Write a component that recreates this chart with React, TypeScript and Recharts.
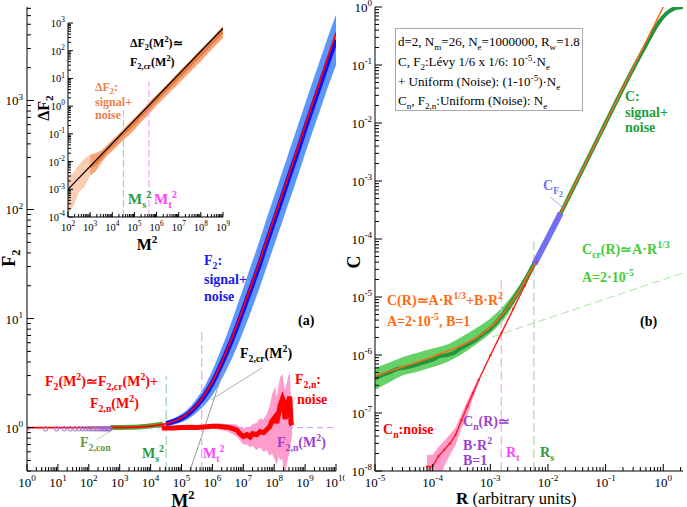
import React from 'react';
import { ComposedChart, Line, Area, XAxis, YAxis } from 'recharts';

const SERIF = '"Liberation Serif", "Times New Roman", serif';

// ---------------- Panel (a) data ----------------
const aXDecades = [1, 10, 100, 1e3, 1e4, 1e5, 1e6, 1e7, 1e8, 1e9, 1e10];
const aYDecades = [0.1, 1, 10, 100, 1000];

const aFitM2 = [1, 10, 100, 1000, 3160, 1e4, 1.78e4, 3.16e4, 5.62e4, 1e5, 1.78e5, 3.16e5, 5.62e5, 1e6, 1.78e6, 3.16e6, 5.62e6, 1e7, 3.16e7, 1e8, 3.16e8, 1e9, 3.16e9, 1e10];
const aFitF2 = [1.0, 1.0001, 1.0007, 1.005, 1.012, 1.033, 1.054, 1.087, 1.143, 1.233, 1.38, 1.62, 2.01, 2.65, 3.69, 5.4, 8.16, 12.7, 32, 84, 220, 590, 1560, 4170];

const aSigM2 = [3.16e4, 5.62e4, 1e5, 1.78e5, 3.16e5, 5.62e5, 1e6, 1.78e6, 3.16e6, 5.62e6, 1e7, 1.78e7, 3.16e7, 5.62e7, 1e8, 1.78e8, 3.16e8, 5.62e8, 1e9, 1.78e9, 3.16e9, 5.62e9, 1e10];
const aSigF2 = [1.09, 1.14, 1.22, 1.36, 1.6, 1.97, 2.58, 3.6, 5.2, 7.8, 12.1, 19, 30, 49, 79, 128, 208, 335, 550, 890, 1430, 2300, 3600];
const aSigLo = [1.04, 1.065, 1.12, 1.21, 1.38, 1.61, 1.98, 2.6, 3.59, 5.13, 7.66, 11.7, 18.2, 29.3, 47, 75.7, 122, 197, 324, 524, 841, 1350, 2120];
const aSigHi = [1.14, 1.22, 1.33, 1.52, 1.86, 2.4, 3.35, 4.97, 7.54, 11.9, 19.1, 30.8, 49.5, 81.8, 133, 216, 354, 570, 935, 1510, 2430, 3910, 6120];

const aConM2 = [500, 1000, 2000, 4000, 8000, 1.6e4, 2.5e4];
const aConF2 = [1.0, 1.002, 1.005, 1.015, 1.03, 1.055, 1.08];

const aNoiseM2 = [2.3e4, 3.2e4, 5.5e4, 1e5, 1.9e5, 3.2e5, 6.6e5, 1e6, 1.4e6, 2e6, 2.9e6, 4.2e6, 6.2e6, 7.8e6, 1e7, 1.3e7, 1.66e7, 2e7, 2.7e7, 3.5e7, 4.5e7, 5.8e7, 7.2e7, 8.5e7, 1.07e8, 1.2e8, 1.4e8, 1.55e8, 1.86e8, 2e8, 2.24e8, 2.5e8, 2.9e8, 3.2e8, 3.5e8, 3.8e8];
const aNoiseF2 = [0.99, 0.99, 0.99, 1.0, 1.01, 1.0, 1.02, 1.03, 1.03, 1.02, 1.01, 0.99, 0.95, 0.88, 0.83, 0.86, 0.82, 0.88, 0.86, 0.92, 0.9, 0.96, 1.02, 1.15, 1.25, 1.1, 1.35, 1.6, 1.85, 1.75, 1.2, 1.35, 1.75, 1.92, 1.1, 1.05];
const aNoiseLo = [0.97, 0.97, 0.97, 0.98, 0.98, 0.97, 0.98, 0.98, 0.97, 0.95, 0.93, 0.88, 0.83, 0.76, 0.7, 0.7, 0.66, 0.68, 0.62, 0.66, 0.6, 0.62, 0.55, 0.58, 0.5, 0.45, 0.55, 0.5, 0.52, 0.35, 0.3, 0.45, 0.55, 0.6, 0.75, 0.85];
const aNoiseHi = [1.01, 1.01, 1.01, 1.02, 1.04, 1.03, 1.06, 1.08, 1.09, 1.09, 1.08, 1.08, 1.07, 1.0, 0.98, 1.02, 1.0, 1.08, 1.1, 1.22, 1.18, 1.35, 1.6, 2.0, 2.4, 1.9, 2.5, 2.9, 3.1, 2.6, 2.2, 2.5, 3.0, 3.2, 1.6, 1.3];

const aCircM2 = [1, 4, 9, 16, 25, 36, 49, 64, 81, 100, 121, 144, 169, 196, 225, 256, 289, 324, 361, 400, 441, 484];
const aCircF2 = [0.975, 0.975, 0.975, 0.975, 0.975, 0.975, 0.975, 0.975, 0.975, 0.975, 0.975, 0.975, 0.975, 0.975, 0.975, 0.975, 0.975, 0.975, 0.975, 0.975, 0.975, 0.975];
const aNLineM2 = [1, 1e10];
const aNLineF2 = [1, 1];

const aCrM2 = [1.86e5, 3.16e5, 1e6, 3.16e6, 1e7, 1e8, 1e9, 1e10];
const aCrF2 = [0.4, 0.62, 1.65, 4.4, 11.7, 83, 586, 4150];

const aMsM2 = [3.2e4, 3.2e4];
const aMsF2 = [0.4, 3.0];
const aMtM2 = [4.5e5, 4.5e5];
const aMtF2 = [0.4, 7.9];
const aCrLeadM2 = [3.98e7, 9.1e5];
const aCrLeadF2 = [3.53, 1.8];
const aConLeadM2 = [180, 620];
const aConLeadF2 = [0.78, 0.96];

// ---------------- Inset data ----------------
const iXDecades = [1e2, 1e3, 1e4, 1e5, 1e6, 1e7, 1e8, 1e9];
const iYDecades = [1e-4, 1e-3, 1e-2, 1e-1, 1, 10, 100, 1000];
const iLineM2 = [100, 1e9];
const iLineDF = [1e-3, 645];
const iFaintM2 = [100, 178, 316, 562, 1000, 1780];
const iFaintLo = [1.26e-4, 2.5e-4, 7.9e-4, 1.26e-3, 3.16e-3, 4.5e-3];
const iFaintHi = [3.16e-3, 4.0e-3, 7.9e-3, 1.26e-2, 1.78e-2, 2.0e-2];
const iM2 = [1000, 1780, 3160, 5620, 1e4, 1.78e4, 3.16e4, 5.62e4, 1e5, 1.78e5, 3.16e5, 5.62e5, 1e6, 1.78e6, 3.16e6, 5.62e6, 1e7, 1.78e7, 3.16e7, 5.62e7, 1e8, 1.78e8, 3.16e8, 5.62e8, 1e9];
const iLo = [3.16e-3, 4.5e-3, 8.9e-3, 1.58e-2, 2.4e-2, 3.8e-2, 6.0e-2, 8.9e-2, 0.141, 0.24, 0.38, 0.63, 1.05, 1.66, 2.63, 4.17, 6.6, 10.5, 16.6, 26.3, 41.7, 69, 112, 182, 282];
const iHi = [1.78e-2, 2.0e-2, 2.5e-2, 3.8e-2, 6.0e-2, 9.5e-2, 0.151, 0.24, 0.38, 0.6, 1.0, 1.66, 2.63, 4.17, 6.6, 10.5, 17.4, 27.5, 43.7, 72, 115, 182, 288, 479, 759];
const iMid = [6.3e-3, 8.3e-3, 1.41e-2, 2.5e-2, 3.8e-2, 6.3e-2, 0.1, 0.151, 0.24, 0.4, 0.63, 1.05, 1.66, 2.7, 4.27, 6.8, 11, 17.4, 28.2, 45.7, 72, 115, 190, 302, 500];
const iMsM2 = [3.2e4, 3.2e4];
const iMsDF = [1e-4, 0.85];
const iMtM2 = [4.5e5, 4.5e5];
const iMtDF = [1e-4, 7.6];

// ---------------- Panel (b) data ----------------
const bXDecades = [1e-5, 1e-4, 1e-3, 1e-2, 1e-1, 1];
const bYDecades = [1e-8, 1e-7, 1e-6, 1e-5, 1e-4, 1e-3, 1e-2, 1e-1, 1];

const bCR = [1e-5, 1.33e-5, 1.78e-5, 2.37e-5, 3.16e-5, 4.2e-5, 5.62e-5, 7.5e-5, 1e-4, 1.33e-4, 1.78e-4, 2.37e-4, 3.16e-4, 4.2e-4, 5.62e-4, 7.5e-4, 1e-3, 1.78e-3, 3.16e-3, 5.62e-3, 1e-2, 3.16e-2, 0.1, 0.316, 0.5, 0.794, 1.0, 1.26, 1.58, 2.0, 2.2];
const bC = [4.0e-7, 4.5e-7, 5.0e-7, 5.7e-7, 6.0e-7, 6.4e-7, 6.9e-7, 7.6e-7, 8.3e-7, 9.6e-7, 1.0e-6, 1.1e-6, 1.33e-6, 1.55e-6, 1.85e-6, 2.3e-6, 2.85e-6, 5.5e-6, 1.3e-5, 3.6e-5, 1.03e-4, 1.0e-3, 1.0e-2, 9.5e-2, 0.22, 0.5, 0.68, 0.84, 0.95, 0.99, 1.0];
const bBandR = [1e-5, 1.78e-5, 3.16e-5, 5.62e-5, 1e-4, 1.78e-4, 3.16e-4, 5.62e-4, 1e-3, 1.78e-3, 3.16e-3, 5.62e-3, 7.08e-3];
const bBandLo = [2.5e-7, 3.4e-7, 4.5e-7, 5.2e-7, 6.2e-7, 7.6e-7, 1.02e-6, 1.51e-6, 2.34e-6, 4.27e-6, 1.06e-5, 3.24e-5, 5.4e-5];
const bBandHi = [6.0e-7, 7.4e-7, 9.3e-7, 1.1e-6, 1.29e-6, 1.51e-6, 2.04e-6, 2.88e-6, 4.27e-6, 7.4e-6, 1.57e-5, 3.9e-5, 5.9e-5];

const bFitR = [1e-5, 1.78e-5, 3.16e-5, 5.62e-5, 1e-4, 1.78e-4, 3.16e-4, 5.62e-4, 1e-3, 1.78e-3, 3.16e-3, 5.62e-3, 1e-2, 3.16e-2, 0.1, 0.316, 1.0];
const bFitC = [4.31e-7, 5.22e-7, 6.33e-7, 7.66e-7, 9.38e-7, 1.16e-6, 1.46e-6, 1.97e-6, 3.0e-6, 5.58e-6, 1.29e-5, 3.52e-5, 1.04e-4, 1.006e-3, 1.0e-2, 1.0e-1, 1.0];

const bF2R = [5.8e-3, 8e-3, 1.1e-2, 1.4e-2, 1.66e-2];
const bF2C = [3.7e-5, 6.8e-5, 1.25e-4, 2.0e-4, 2.8e-4];

const bNR = [8e-5, 1e-4, 1.26e-4, 1.58e-4, 2e-4, 2.5e-4, 3.16e-4, 3.98e-4, 5e-4, 6.3e-4, 1e-3, 1.58e-3, 2.5e-3, 3.98e-3, 6.3e-3];
const bNC = [1.2e-8, 1.2e-8, 1.8e-8, 2.3e-8, 3.0e-8, 4.2e-8, 7.5e-8, 1.3e-7, 2.2e-7, 3.7e-7, 9.8e-7, 2.45e-6, 6.2e-6, 1.58e-5, 4.0e-5];
const bNBandR = [8e-5, 1e-4, 1.26e-4, 1.58e-4, 2e-4, 2.5e-4, 3.16e-4, 3.98e-4, 5e-4, 6.3e-4];
const bNBandLo = [3e-9, 3e-9, 6e-9, 1.2e-8, 1.9e-8, 2.8e-8, 5.5e-8, 8.7e-8, 1.8e-7, 3.4e-7];
const bNBandHi = [1.9e-8, 1.9e-8, 2.6e-8, 3.3e-8, 4.3e-8, 5.6e-8, 9.5e-8, 1.6e-7, 2.6e-7, 4.0e-7];

const bCcrR = [1.1e-3, 3.16e-2, 2.2];
const bCcrC = [2.06e-6, 6.3e-6, 2.6e-5];
const bRtR = [1.55e-3, 1.55e-3];
const bRtC = [1e-8, 2.0e-5];
const bRsR = [5.7e-3, 5.7e-3];
const bRsC = [1e-8, 1.0e-4];
const bLeadR = [0.011, 0.018];
const bLeadC = [5.3e-4, 3.5e-4];

// ---------------- helpers ----------------
const pts = (xs: number[], ys: number[]) => xs.map((x, i) => ({ x, y: ys[i] }));
const rng = (xs: number[], lo: number[], hi: number[]) => xs.map((x, i) => ({ x, r: [lo[i], hi[i]] }));
const logTicks = (decades: number[], lo: number, hi: number) => {
  const out: number[] = [];
  decades.forEach((d) => {
    for (let k = 1; k <= 9; k++) {
      const v = parseFloat((d * k).toPrecision(8));
      if (v >= lo * 0.9999 && v <= hi * 1.0001) out.push(v);
    }
  });
  return out;
};

function LogTick(p: any) {
  const { x, y, payload, o } = p;
  const v = payload.value;
  const lg = Math.log10(v);
  const e = Math.round(lg);
  const isMajor = Math.abs(lg - e) < 1e-4;
  const L = isMajor ? o.major : o.minor;
  let x2 = x, y2 = y;
  if (o.side === 'bottom') y2 = y - L;
  else if (o.side === 'top') y2 = y + L;
  else if (o.side === 'left') x2 = x + L;
  else x2 = x - L;
  const fs = o.fs;
  let label = null;
  const st = { fontFamily: SERIF };
  if (o.label && isMajor) {
    const sup = <tspan dy={-fs * 0.45} fontSize={fs * 0.7}>{String(e)}</tspan>;
    if (o.side === 'bottom') {
      label = (
        <text x={x} y={y + o.off} textAnchor="middle" fontFamily={SERIF} style={st} fontSize={fs} fill="#000">
          10{sup}
        </text>
      );
    } else {
      label = (
        <text x={x - o.off} y={y + fs * 0.38} textAnchor="end" fontFamily={SERIF} style={st} fontSize={fs} fill="#000">
          10{sup}
        </text>
      );
    }
  }
  return (
    <g>
      <line x1={x} y1={y} x2={x2} y2={y2} stroke="#000" strokeWidth={1} />
      {label}
    </g>
  );
}

function frameAxes(xDom: number[], yDom: number[], xT: number[], yT: number[], c: any) {
  const common = { type: 'number' as const, scale: 'log' as const, allowDataOverflow: true, interval: 0, tickLine: false, tickSize: 0, tickMargin: 0, axisLine: { stroke: '#000', strokeWidth: 1 } };
  return [
    <XAxis key="xb" xAxisId={0} dataKey="x" domain={xDom} ticks={xT} height={c.xh} {...common}
      tick={(p: any) => <LogTick {...p} o={{ side: 'bottom', major: c.maj, minor: c.min, fs: c.fs, label: true, off: c.xoff }} />} />,
    <XAxis key="xt" xAxisId="top" orientation="top" domain={xDom} ticks={xT} height={0} {...common}
      tick={(p: any) => <LogTick {...p} o={{ side: 'top', major: c.maj, minor: c.min, fs: c.fs, label: false }} />} />,
    <YAxis key="yl" yAxisId={0} domain={yDom} ticks={yT} width={c.yw} {...common}
      tick={(p: any) => <LogTick {...p} o={{ side: 'left', major: c.maj, minor: c.min, fs: c.fs, label: true, off: c.yoff }} />} />,
    <YAxis key="yr" yAxisId="right" orientation="right" domain={yDom} ticks={yT} width={0} {...common}
      tick={(p: any) => <LogTick {...p} o={{ side: 'right', major: c.maj, minor: c.min, fs: c.fs, label: false }} />} />,
  ];
}

// ---------------- rich text ----------------
type Seg = [string, number];
function parseRich(s: string): Seg[] {
  const out: Seg[] = [];
  const re = /([_^~])\{([^}]*)\}/g;
  let last = 0;
  let m: any;
  while ((m = re.exec(s))) {
    if (m.index > last) out.push([s.slice(last, m.index), 0]);
    out.push([m[2], m[1] === '_' ? 1 : m[1] === '^' ? 2 : 3]);
    last = re.lastIndex;
  }
  if (last < s.length) out.push([s.slice(last), 0]);
  return out;
}

function Rich({ x, y, s, fs = 14, fill = '#000', bold = true, anchor = 'start', rotate = false }: any) {
  const segs = parseRich(s);
  const off = [0, fs * 0.28, -fs * 0.42, fs * 0.5];
  const sz = [fs, fs * 0.7, fs * 0.7, fs * 0.55];
  let cur = 0;
  return (
    <text
      x={rotate ? 0 : x}
      y={rotate ? 0 : y}
      transform={rotate ? `translate(${x},${y}) rotate(-90)` : undefined}
      fill={fill}
      fontFamily={SERIF}
      fontWeight={bold ? 'bold' : 'normal'}
      fontSize={fs}
      textAnchor={anchor}
      style={{ whiteSpace: 'pre', fontFamily: SERIF }}
    >
      {segs.map(([t, l], i) => {
        const dy = off[l] - cur;
        cur = off[l];
        return (
          <tspan key={i} dy={dy} fontSize={sz[l]}>
            {t}
          </tspan>
        );
      })}
    </text>
  );
}

// ---------------- charts ----------------
const NA = { isAnimationActive: false, dot: false, activeDot: false } as any;

function PanelA() {
  return (
    <ComposedChart width={345} height={507} margin={{ top: 7, right: 9, bottom: 0, left: 0 }}>
      {frameAxes([1, 1e10], [0.4, 7200], logTicks(aXDecades, 1, 1e10), logTicks(aYDecades, 0.4, 7200), { xh: 36, yw: 27, maj: 7, min: 4, fs: 13, xoff: 16, yoff: 4 })}
      <Area data={rng(aNoiseM2, aNoiseLo, aNoiseHi)} dataKey="r" type="linear" stroke="none" fill="#ff9ccc" fillOpacity={1} isAnimationActive={false} />
      <Line data={pts(aNLineM2, aNLineF2)} dataKey="y" stroke="#cf9aee" strokeWidth={1} strokeDasharray="6 4" {...NA} />
      <Line data={pts(aCrM2, aCrF2)} dataKey="y" stroke="#9a9a9a" strokeWidth={1} {...NA} />
      <Line data={pts(aMsM2, aMsF2)} dataKey="y" stroke="#9fd8b0" strokeWidth={1.3} strokeDasharray="9 4" {...NA} />
      <Line data={pts(aMtM2, aMtF2)} dataKey="y" stroke="#f4a6f4" strokeWidth={1.3} strokeDasharray="9 4" {...NA} />
      <Area data={rng(aSigM2, aSigLo, aSigHi)} dataKey="r" type="monotone" stroke="none" fill="#5c97ff" fillOpacity={1} isAnimationActive={false} />
      <Line data={pts(aSigM2, aSigF2)} dataKey="y" type="monotone" stroke="#0d0dff" strokeWidth={5} {...NA} />
      <Line data={pts(aCircM2, aCircF2)} dataKey="y" stroke="none" isAnimationActive={false} activeDot={false}
        dot={{ r: 2.2, stroke: '#9b6fd0', strokeWidth: 1, fill: 'none' }} />
      <Line data={pts(aConM2, aConF2)} dataKey="y" type="monotone" stroke="#5f9a35" strokeWidth={5} {...NA} />
      <Line data={pts(aNoiseM2, aNoiseF2)} dataKey="y" type="linear" stroke="#ff0000" strokeWidth={5} {...NA} />
      <Line data={pts(aFitM2, aFitF2)} dataKey="y" type="monotone" stroke="#ff0000" strokeWidth={1.8} {...NA} />
      <Line data={pts(aCrLeadM2, aCrLeadF2)} dataKey="y" stroke="#9a9a9a" strokeWidth={0.8} {...NA} />
      <Line data={pts(aConLeadM2, aConLeadF2)} dataKey="y" stroke="#b4c29a" strokeWidth={0.8} {...NA} />
    </ComposedChart>
  );
}

function Inset() {
  return (
    <ComposedChart width={200} height={250} margin={{ top: 23, right: 13, bottom: 0, left: 0 }}>
      {frameAxes([100, 1e9], [1e-4, 1000], logTicks(iXDecades, 100, 1e9), logTicks(iYDecades, 1e-4, 1000), { xh: 33, yw: 32, maj: 5, min: 3, fs: 10.5, xoff: 14, yoff: 3 })}
      <Line data={pts(iMsM2, iMsDF)} dataKey="y" stroke="#9fd8b0" strokeWidth={1.2} strokeDasharray="7 3" {...NA} />
      <Line data={pts(iMtM2, iMtDF)} dataKey="y" stroke="#f4a6f4" strokeWidth={1.2} strokeDasharray="7 3" {...NA} />
      <Area data={rng(iFaintM2, iFaintLo, iFaintHi)} dataKey="r" type="linear" stroke="none" fill="#f9cdb4" fillOpacity={1} isAnimationActive={false} />
      <Area data={rng(iM2, iLo, iHi)} dataKey="r" type="linear" stroke="none" fill="#f4a577" fillOpacity={1} isAnimationActive={false} />
      <Line data={pts(iM2, iMid)} dataKey="y" type="linear" stroke="#ea7a3e" strokeWidth={2.5} {...NA} />
      <Line data={pts(iLineM2, iLineDF)} dataKey="y" stroke="#000" strokeWidth={1.2} {...NA} />
    </ComposedChart>
  );
}

function PanelB() {
  return (
    <ComposedChart width={342} height={507} margin={{ top: 7, right: 4, bottom: 0, left: 0 }}>
      {frameAxes([1e-5, 2.2], [1e-8, 1], logTicks(bXDecades, 1e-5, 2.2), logTicks(bYDecades, 1e-8, 1), { xh: 36, yw: 30, maj: 7, min: 4, fs: 13, xoff: 16, yoff: 3 })}
      <Line data={pts(bCcrR, bCcrC)} dataKey="y" stroke="#a8e6a0" strokeWidth={1} strokeDasharray="8 4" {...NA} />
      <Area data={rng(bBandR, bBandLo, bBandHi)} dataKey="r" type="monotone" stroke="none" fill="#66d166" fillOpacity={1} isAnimationActive={false} />
      <Area data={rng(bNBandR, bNBandLo, bNBandHi)} dataKey="r" type="linear" stroke="none" fill="#ff9ccc" fillOpacity={1} isAnimationActive={false} />
      <Line data={pts(bRtR, bRtC)} dataKey="y" stroke="#f4a6f4" strokeWidth={1.2} strokeDasharray="9 4" {...NA} />
      <Line data={pts(bRsR, bRsC)} dataKey="y" stroke="#a8d8b8" strokeWidth={1.2} strokeDasharray="9 4" {...NA} />
      <Line data={pts(bNR, bNC)} dataKey="y" type="linear" stroke="#ff2020" strokeWidth={1.5} isAnimationActive={false} activeDot={false}
        dot={{ r: 1.2, fill: '#ff2020', stroke: 'none' }} />
      <Line data={pts(bCR, bC)} dataKey="y" type="monotone" stroke="#229440" strokeWidth={4} {...NA} />
      <Line data={pts(bFitR, bFitC)} dataKey="y" type="monotone" stroke="#ff6a10" strokeWidth={1.5} {...NA} />
      <Line data={pts(bF2R, bF2C)} dataKey="y" type="monotone" stroke="#6f6ff0" strokeWidth={6} {...NA} />
      <Line data={pts(bLeadR, bLeadC)} dataKey="y" stroke="#8f8fee" strokeWidth={0.8} {...NA} />
    </ComposedChart>
  );
}

function Labels() {
  const blue = '#1a1aee';
  const red = '#ff0000';
  const green = '#2a9a3a';
  const mag = '#ff44ff';
  const purple = '#9a3fd0';
  const orange = '#ff6a10';
  const inOrange = '#ee8048';
  return (
    <svg width={687} height={507} style={{ position: 'absolute', left: 0, top: 0, pointerEvents: 'none' }}>
      {/* axis titles */}
      <Rich x={15} y={258} s="F_{2}" fs={18} rotate anchor="middle" />
      <Rich x={183} y={507} s="M^{2}" fs={18} anchor="middle" />
      <Rich x={49} y={108} s="ΔF_{2}" fs={16} rotate anchor="middle" />
      <Rich x={147} y={250} s="M^{2}" fs={16} anchor="middle" />
      <Rich x={360} y={262} s="C" fs={18} rotate anchor="middle" />
      <text x={456} y={504} fontFamily={SERIF} style={{ fontFamily: SERIF, whiteSpace: 'pre' }} fontSize={16.5} fill="#000">
        <tspan fontWeight="bold" fontSize={17}>R</tspan>
        <tspan> (arbitrary units)</tspan>
      </text>

      {/* panel a */}
      <Rich x={204} y={265} s="F_{2}:" fill={blue} />
      <Rich x={204} y={284} s="signal+" fill={blue} />
      <Rich x={204} y={301} s="noise" fill={blue} />
      <Rich x={298} y={325} s="(a)" />
      <Rich x={240} y={358} s="F_{2,cr}(M^{2})" />
      <Rich x={45} y={386} s="F_{2}(M^{2})≃F_{2,cr}(M^{2})+" fill={red} />
      <Rich x={90} y={408} s="F_{2,n}(M^{2})" fill={red} />
      <Rich x={295} y={384} s="F_{2,n}:" fill={red} />
      <Rich x={297} y={404} s="noise" fill={red} />
      <Rich x={80} y={447} s="F_{2,con}" fill="#6a9a3a" />
      <Rich x={142} y={458} s="M_{s}^{2}" fill={green} />
      <Rich x={203} y={458} s="M_{t}^{2}" fill={mag} />
      <Rich x={277} y={447} s="F_{2,n}(M^{2})" fill={purple} />

      {/* inset */}
      <Rich x={130} y={47} s="ΔF_{2}(M^{2})≃" fs={12} />
      <Rich x={130} y={66} s="F_{2,cr}(M^{2})" fs={12} />
      <Rich x={95} y={91} s="ΔF_{2}:" fs={12} fill={inOrange} />
      <Rich x={95} y={106} s="signal+" fs={12} fill={inOrange} />
      <Rich x={95} y={119} s="noise" fs={12} fill={inOrange} />
      <Rich x={128} y={204} s="M_{s}^{2}" fs={15} fill={green} />
      <Rich x={154} y={204} s="M_{t}^{2}" fs={15} fill={mag} />

      {/* panel b legend */}
      <rect x={395.5} y={28.5} width={187} height={82} fill="#fff" stroke="#aaaaaa" strokeWidth={1} />
      <Rich x={398} y={46} s="d=2, N_{m}=26, N_{e}=1000000, R_{w}=1.8" fs={13} bold={false} />
      <Rich x={398} y={66} s="C, F_{2}:Lévy 1/6 x 1/6: 10^{-5}·N_{e}" fs={13} bold={false} />
      <Rich x={398} y={86} s="+ Uniform (Noise): (1-10^{-5})·N_{e}" fs={13} bold={false} />
      <Rich x={398} y={105} s="C_{n}, F_{2,n}:Uniform (Noise): N_{e}" fs={13} bold={false} />

      {/* panel b */}
      <Rich x={625} y={101} s="C:" fill="#22a03a" />
      <Rich x={625} y={117} s="signal+" fill="#22a03a" />
      <Rich x={625} y={132} s="noise" fill="#22a03a" />
      <Rich x={543} y={190} s="C_{F}~{2}" fill="#7373ee" />
      <Rich x={582} y={254} s="C_{cr}(R)≃A·R^{1/3}" fill="#44cc33" />
      <Rich x={582} y={282} s="A=2·10^{-5}" fill="#44cc33" />
      <Rich x={387} y={305} s="C(R)≃A·R^{1/3}+B·R^{2}" fill={orange} />
      <Rich x={387} y={326} s="A=2·10^{-5}, B=1" fill={orange} />
      <Rich x={640} y={326} s="(b)" />
      <Rich x={383} y={434} s="C_{n}:noise" fill={red} />
      <Rich x={463} y={426} s="C_{n}(R)≃" fill={purple} />
      <Rich x={463} y={450} s="B·R^{2}" fill={purple} />
      <Rich x={463} y={465} s="B=1" fill={purple} />
      <Rich x={506} y={457} s="R_{t}" fill={mag} />
      <Rich x={540} y={457} s="R_{s}" fill={green} />
    </svg>
  );
}

export default function App() {
  return (
    <div style={{ position: 'absolute', left: 0, top: 0, width: 687, height: 507, background: '#fff', overflow: 'hidden' }}>
      <div style={{ position: 'absolute', left: 0, top: 0 }}>
        <PanelA />
      </div>
      <div style={{ position: 'absolute', left: 36, top: 0 }}>
        <Inset />
      </div>
      <div style={{ position: 'absolute', left: 345, top: 0 }}>
        <PanelB />
      </div>
      <Labels />
    </div>
  );
}
